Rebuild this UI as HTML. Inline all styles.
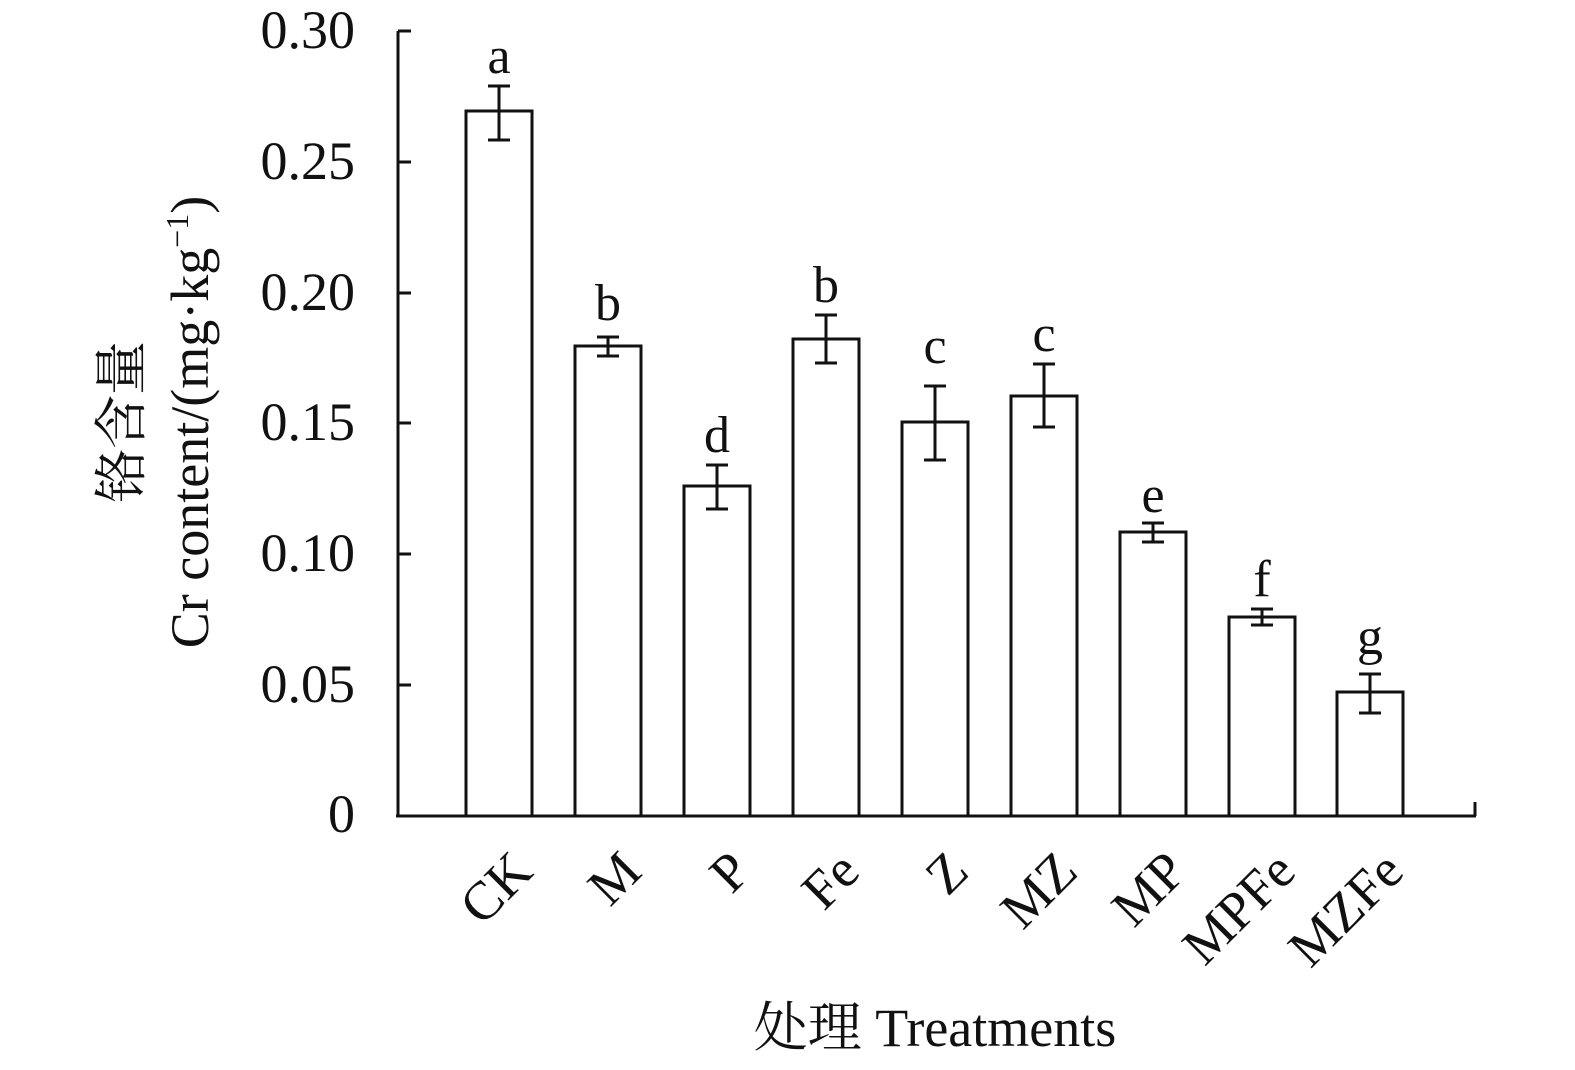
<!DOCTYPE html>
<html><head><meta charset="utf-8"><style>body{margin:0;background:#fff}svg{display:block}</style></head><body>
<svg width="1575" height="1070" viewBox="0 0 1575 1070" xmlns="http://www.w3.org/2000/svg" font-family="'Liberation Serif','Noto Serif CJK SC',serif" fill="#111">
<g stroke="#111" stroke-width="3" fill="none">
<line x1="398" y1="31" x2="398" y2="817"/>
<line x1="396" y1="816" x2="1476" y2="816"/>
<line x1="1475" y1="816" x2="1475" y2="802"/>
<line x1="398" y1="31" x2="411" y2="31"/>
<line x1="398" y1="162" x2="411" y2="162"/>
<line x1="398" y1="293" x2="411" y2="293"/>
<line x1="398" y1="423" x2="411" y2="423"/>
<line x1="398" y1="554" x2="411" y2="554"/>
<line x1="398" y1="685" x2="411" y2="685"/>
<rect x="466" y="111" width="66" height="705"/>
<rect x="575" y="346" width="66" height="470"/>
<rect x="684" y="486" width="66" height="330"/>
<rect x="793" y="339" width="66" height="477"/>
<rect x="902" y="422" width="66" height="394"/>
<rect x="1011" y="396" width="66" height="420"/>
<rect x="1120" y="532" width="66" height="284"/>
<rect x="1229" y="617" width="66" height="199"/>
<rect x="1337" y="692" width="66" height="124"/>
<path d="M499 86V140M488 86H510M488 140H510"/>
<path d="M608 337V356M597 337H619M597 356H619"/>
<path d="M717 465V509M706 465H728M706 509H728"/>
<path d="M826 315V363M815 315H837M815 363H837"/>
<path d="M935 386V460M924 386H946M924 460H946"/>
<path d="M1044 364V427M1033 364H1055M1033 427H1055"/>
<path d="M1153 523V542M1142 523H1164M1142 542H1164"/>
<path d="M1262 609V625M1251 609H1273M1251 625H1273"/>
<path d="M1370 674V713M1359 674H1381M1359 713H1381"/>
</g>
<g font-size="54" text-anchor="end">
<text x="355" y="48">0.30</text>
<text x="355" y="179">0.25</text>
<text x="355" y="310">0.20</text>
<text x="355" y="440">0.15</text>
<text x="355" y="571">0.10</text>
<text x="355" y="702">0.05</text>
<text x="355" y="832">0</text>
</g>
<g font-size="52" text-anchor="middle">
<text x="499" y="73">a</text>
<text x="608" y="320">b</text>
<text x="717" y="452">d</text>
<text x="826" y="302">b</text>
<text x="935" y="363">c</text>
<text x="1044" y="351">c</text>
<text x="1153" y="512">e</text>
<text x="1262" y="596">f</text>
<text x="1370" y="654">g</text>
</g>
<g font-size="54" text-anchor="end">
<text transform="translate(535,874) rotate(-45)">CK</text>
<text transform="translate(644,874) rotate(-45)">M</text>
<text transform="translate(753,874) rotate(-45)">P</text>
<text transform="translate(862,874) rotate(-45)">Fe</text>
<text transform="translate(971,874) rotate(-45)">Z</text>
<text transform="translate(1080,874) rotate(-45)">MZ</text>
<text transform="translate(1189,874) rotate(-45)">MP</text>
<text transform="translate(1298,874) rotate(-45)">MPFe</text>
<text transform="translate(1406,874) rotate(-45)">MZFe</text>
</g>
<text x="935" y="1046" font-size="54" text-anchor="middle">处理 Treatments</text>
<text transform="translate(140,422) rotate(-90)" font-size="54" text-anchor="middle">铬含量</text>
<text transform="translate(208,422) rotate(-90)" font-size="54" text-anchor="middle">Cr content/(mg·kg<tspan font-size="32" dy="-20">−1</tspan><tspan dy="20">)</tspan></text>
</svg>
</body></html>
